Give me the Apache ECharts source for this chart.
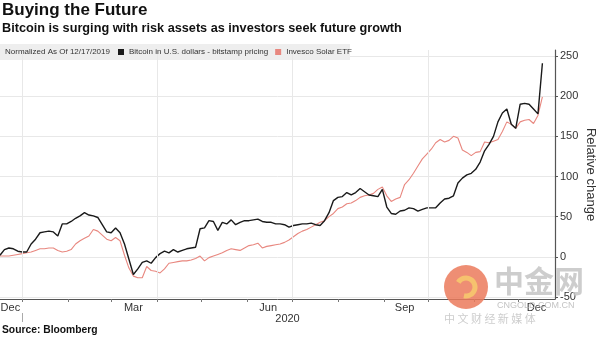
<!DOCTYPE html>
<html><head><meta charset="utf-8">
<script src="https://cdn.jsdelivr.net/npm/echarts@6/dist/echarts.min.js"></script>
<style>html,body{margin:0;padding:0;background:#fff}#c{width:600px;height:337px}</style>
</head><body><div id="c"></div>
<script>
const dates = [
'2019-12-17','2019-12-20','2019-12-23','2019-12-26','2019-12-29',
'2020-01-01','2020-01-04','2020-01-07','2020-01-10','2020-01-13','2020-01-16','2020-01-19','2020-01-22','2020-01-25','2020-01-28','2020-01-31',
'2020-02-03','2020-02-06','2020-02-09','2020-02-12','2020-02-15','2020-02-18','2020-02-21','2020-02-24','2020-02-27',
'2020-03-01','2020-03-04','2020-03-07','2020-03-10','2020-03-13','2020-03-16','2020-03-19','2020-03-22','2020-03-25','2020-03-28','2020-03-31',
'2020-04-03','2020-04-06','2020-04-09','2020-04-12','2020-04-15','2020-04-18','2020-04-21','2020-04-24','2020-04-27','2020-04-30',
'2020-05-03','2020-05-06','2020-05-09','2020-05-12','2020-05-15','2020-05-18','2020-05-21','2020-05-24','2020-05-27','2020-05-30',
'2020-06-02','2020-06-05','2020-06-08','2020-06-11','2020-06-14','2020-06-17','2020-06-20','2020-06-23','2020-06-26','2020-06-29',
'2020-07-02','2020-07-05','2020-07-08','2020-07-11','2020-07-14','2020-07-17','2020-07-20','2020-07-23','2020-07-26','2020-07-29',
'2020-08-01','2020-08-04','2020-08-07','2020-08-10','2020-08-13','2020-08-16','2020-08-19','2020-08-22','2020-08-25','2020-08-28','2020-08-31',
'2020-09-03','2020-09-06','2020-09-09','2020-09-12','2020-09-15','2020-09-18','2020-09-21','2020-09-24','2020-09-27','2020-09-30',
'2020-10-03','2020-10-06','2020-10-09','2020-10-12','2020-10-15','2020-10-18','2020-10-21','2020-10-24','2020-10-27','2020-10-30',
'2020-11-02','2020-11-05','2020-11-08','2020-11-11','2020-11-14','2020-11-17','2020-11-20','2020-11-23','2020-11-26','2020-11-29',
'2020-12-02','2020-12-05','2020-12-08','2020-12-11','2020-12-14','2020-12-17'
];
const bitcoin = [
2, 9, 11, 10, 7,
6, 6, 16, 22, 30, 31, 32, 31, 26, 41, 41,
44, 48, 51, 55, 52, 51, 49, 40, 31,
30, 36, 30, 16, -3, -22, -15, -7, -5, -8, -1,
4, 7, 5, 9, 6, 8, 10, 11, 12, 35,
36, 45, 44, 33, 43, 41, 46, 40, 43, 45,
45, 46, 47, 44, 43, 43, 41, 41, 40, 37,
39, 40, 41, 41, 42, 40, 39, 45, 55, 70,
74, 75, 80, 77, 80, 85, 81, 77, 76, 75, 84,
62, 54, 53, 57, 58, 61, 60, 57, 59, 61,
61, 61, 67, 72, 73, 76, 92, 98, 102, 104,
109, 118, 132, 140, 150, 168, 179, 184, 165, 160,
190, 191, 190, 184, 178, 241
];
const solar = [
1, 1, 1, 2, 3,
4, 5, 6, 8, 10, 10, 11, 11, 8, 6, 7,
9, 16, 20, 23, 26, 34, 32, 27, 22,
20, 24, 20, 2, -14, -24, -26, -26, -12, -17, -18,
-20, -15, -8, -7, -6, -5, -5, -4, -2, 1,
-5, -1, 1, 3, 5, 8, 10, 9, 8, 11,
14, 15, 17, 11, 13, 14, 15, 16, 18, 21,
25, 29, 32, 34, 37, 40, 43, 45, 50, 54,
60, 62, 66, 67, 70, 74, 76, 77, 79, 84, 87,
76, 69, 72, 74, 90, 96, 104, 113, 122, 128,
134, 142, 146, 143, 145, 150, 148, 133, 130, 126,
130, 131, 143, 142, 144, 146, 156, 168, 165, 160,
168, 170, 171, 166, 176, 199
];
const seriesNames = ['Bitcoin in U.S. dollars - bitstamp pricing', 'Invesco Solar ETF'];
const yTicks = [-50, 0, 50, 100, 150, 200, 250];
const monthTicks = ['2020-01-01','2020-02-01','2020-03-01','2020-04-01','2020-05-01','2020-06-01','2020-07-01','2020-08-01','2020-09-01','2020-10-01','2020-11-01','2020-12-01'];
const monthLabelDates = ['2019-12-24','2020-03-16','2020-06-15','2020-09-15','2020-12-13'];
const monthNames = ['Jan','Feb','Mar','Apr','May','Jun','Jul','Aug','Sep','Oct','Nov','Dec'];
const quarterLines = ['2020-01-01','2020-04-01','2020-07-01','2020-10-01'];
const yearTick = ['2020-01-01'];
const yearLabelDate = ['2020-06-28'];
const xMin = '2019-12-17';
const xMax = '2020-12-25 12:00';

const P = s => echarts.time.parse(s).getTime();
const FF = '"Liberation Sans", Arial, sans-serif';
const chart = echarts.init(document.getElementById('c'), null, {renderer:'canvas'});
chart.setOption({
  animation: false,
  backgroundColor: '#fff',
  textStyle: {fontFamily: FF},
  title: [
    {text:'Buying the Future', left:2, top:2, padding:0, textStyle:{fontSize:17, fontWeight:'bold', color:'#111', fontFamily:FF}},
    {text:'Bitcoin is surging with risk assets as investors seek future growth', left:2, top:22, padding:0, textStyle:{fontSize:12.7, fontWeight:'bold', color:'#111', fontFamily:FF}},
    {text:'Source: Bloomberg', left:2, top:325, padding:0, textStyle:{fontSize:10.3, fontWeight:'bold', color:'#111', fontFamily:FF}}
  ],
  legend: {
    left:118, top:48, padding:0, z:10, itemWidth:6, itemHeight:6, itemGap:7, icon:'rect',
    textStyle:{fontSize:8, color:'#333', fontFamily:FF},
    data: seriesNames
  },
  grid: {left:0, right:45, top:50, bottom:38, containLabel:false, outerBoundsMode:'none'},
  xAxis: [{
    type:'value', min:P(xMin), max:P(xMax),
    axisLine:{show:true, onZero:false, lineStyle:{color:'#555', width:1}},
    axisTick:{show:true, customValues: monthTicks.map(P), length:3, lineStyle:{color:'#777'}},
    axisLabel:{customValues: monthLabelDates.map(P), formatter: v => monthNames[new Date(v).getMonth()], color:'#333', fontSize:11, margin:3, fontFamily:FF},
    splitLine:{show:false}
  },{
    type:'value', min:P(xMin), max:P(xMax), position:'bottom', offset:14,
    axisLine:{show:false, onZero:false},
    axisTick:{show:true, customValues: yearTick.map(P), length:9, lineStyle:{color:'#aaa'}},
    axisLabel:{customValues: yearLabelDate.map(P), formatter: () => '2020', color:'#333', fontSize:11, margin:0, fontFamily:FF},
    splitLine:{show:false}
  }],
  yAxis: {
    type:'value', position:'right', min:-52.5, max:257.5,
    axisLine:{show:true, onZero:false, lineStyle:{color:'#555', width:1.2}},
    axisTick:{show:true, customValues: yTicks, length:3, lineStyle:{color:'#555'}},
    axisLabel:{customValues: yTicks, color:'#333', fontSize:11, margin:5, fontFamily:FF},
    splitLine:{show:true, lineStyle:{color:'#e8e8e8', width:1}},
    name:'Relative change', nameLocation:'middle', nameRotate:-90, nameGap:29, nameMoveOverlap:false,
    nameTextStyle:{fontSize:13, color:'#333', fontFamily:FF}
  },
  series: [
    {
      name: seriesNames[1], type:'line', symbol:'none', z:2,
      data: dates.map((d,i) => [P(d), solar[i]]),
      lineStyle:{color:'#e8877f', width:1.1}, itemStyle:{color:'#e8877f'},
      markLine:{silent:true, symbol:'none', label:{show:false}, animation:false,
        lineStyle:{color:'#e8e8e8', width:1, type:'solid'},
        data: quarterLines.map(d => ({xAxis: P(d)}))}
    },
    {
      name: seriesNames[0], type:'line', symbol:'none', z:3,
      data: dates.map((d,i) => [P(d), bitcoin[i]]),
      lineStyle:{color:'#1a1a1a', width:1.4}, itemStyle:{color:'#1a1a1a'}
    }
  ],
  graphic: [
    {type:'rect', left:0, top:44, z:5, shape:{width:350, height:16}, style:{fill:'#eeeeee'}},
    {type:'text', left:5, top:48, z:11, style:{text:'Normalized As Of 12/17/2019', font:'8px "Liberation Sans", Arial, sans-serif', fill:'#333'}},
    {type:'circle', z:20, shape:{cx:466, cy:287, r:22}, style:{fill:'#eb7a5c', opacity:0.85}},
    {type:'arc', z:21, shape:{cx:466, cy:287, r:9, startAngle:-2.6, endAngle:1.8}, style:{stroke:'#f6c86e', lineWidth:5, fill:'none', opacity:0.9}},
    {type:'text', z:21, left:494, top:266, style:{text:'中金网', font:'bold 30px "Noto Sans CJK SC"', fill:'#c4c4c4', opacity:0.85}},
    {type:'text', z:21, left:497, top:301, style:{text:'CNGOLD.COM.CN', font:'9px "Liberation Sans", Arial', fill:'#bdbdbd', opacity:0.9}},
    {type:'text', z:21, left:444, top:313, style:{text:'中 文 财 经 新 媒 体', font:'11px "Noto Sans CJK SC"', fill:'#c8c8c8', opacity:0.9}}
  ]
});
</script></body></html>
